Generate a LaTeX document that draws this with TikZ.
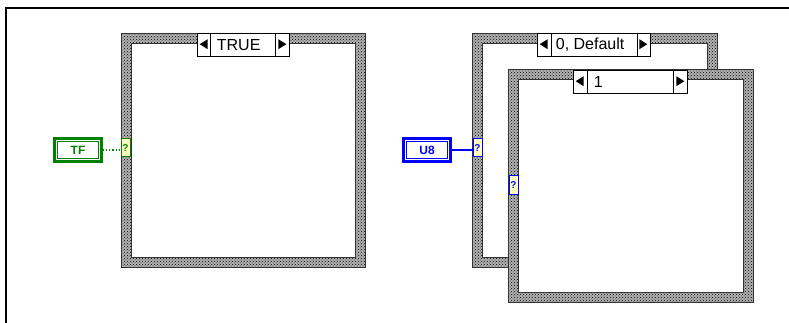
\documentclass[tikz,border=0pt]{standalone}
\usepackage{tikz}
\usepackage{fontspec}
\setmainfont{Liberation Sans}
\usetikzlibrary{patterns}

\begin{document}
\begin{tikzpicture}[x=1pt,y=-1pt,
    wall/.style={preaction={fill=gray!60}, pattern=crosshatch dots, pattern color=black,
                 draw=black!80, line width=0.5pt},
    hole/.style={fill=white, draw=black!80, line width=0.5pt},
    tabbox/.style={draw=black, line width=0.6pt, fill=white, inner sep=0pt},
    tabtext/.style={anchor=west, inner sep=0pt, font=\fontsize{16}{16}\selectfont},
    tunnel/.style={draw=#1, line width=1pt, fill=yellow!25, minimum width=9pt, minimum height=18pt,
                   inner sep=0pt, text=#1, font=\bfseries\fontsize{10}{10}\selectfont},
    constant/.style={draw=#1, line width=2.6pt, fill=white, minimum width=47pt, minimum height=23pt,
                     inner sep=0pt, text=#1, font=\bfseries\fontsize{12}{12}\selectfont}]
    % Page size and the frame line
    \useasboundingbox (0,0) rectangle (789,323);
    \coordinate (FL) at (6,323);
    \coordinate (FC) at (6,8);
    \coordinate (FR) at (789,8);
    \draw[line width=2.5pt] (FL) -- (FC) -- (FR);

    % Boolean case structure
    \path[wall] (121,33) rectangle (365,267);
    \path[hole] (131,43) rectangle (355,257);
    \node[tabbox, minimum width=92pt, minimum height=23pt] (tabT) at (243,44.5) {};
    \draw ([xshift=13pt]tabT.north west) -- ([xshift=13pt]tabT.south west);
    \draw ([xshift=-14pt]tabT.north east) -- ([xshift=-14pt]tabT.south east);
    \fill ([xshift=3pt,yshift=-11.5pt]tabT.north west) -- ++(8,-5) -- ++(0,10) -- cycle;
    \fill ([xshift=-3pt,yshift=-11.5pt]tabT.north east) -- ++(-8,-5) -- ++(0,10) -- cycle;
    \node[tabtext] (txtT) at ([xshift=20pt,yshift=-12pt]tabT.north west) {TRUE};

    % Boolean input and its selector tunnel
    \node[constant=green!50!black] (tf) at (78,150) {TF};
    \draw[green!50!black, line width=0.8pt] ([shift={(4.5,4.5)}]tf.north west) rectangle ([shift={(-4.5,-4.5)}]tf.south east);
    \node[tunnel=green!50!black] (selT) at (125.5,148) {?};
    \draw[green!50!black, line width=1.2pt, dotted] (tf.east) -- (selT.west |- tf.east);

    % Numeric case structure, back frame
    \path[wall] (472,33) rectangle (717,267);
    \path[hole] (482,43) rectangle (707,257);
    \node[tabbox, minimum width=113pt, minimum height=23pt] (tabD) at (593.5,44.5) {};
    \draw ([xshift=14pt]tabD.north west) -- ([xshift=14pt]tabD.south west);
    \draw ([xshift=-13pt]tabD.north east) -- ([xshift=-13pt]tabD.south east);
    \fill ([xshift=3pt,yshift=-11.5pt]tabD.north west) -- ++(8,-5) -- ++(0,10) -- cycle;
    \fill ([xshift=-3pt,yshift=-11.5pt]tabD.north east) -- ++(-8,-5) -- ++(0,10) -- cycle;
    \node[tabtext] (txtD) at ([xshift=19pt,yshift=-12pt]tabD.north west) {0, Default};

    % Numeric case structure, front frame
    \path[wall] (508,69) rectangle (753,302);
    \path[hole] (518,79) rectangle (743,292);
    \node[tabbox, minimum width=114pt, minimum height=23pt] (tabO) at (630,81.5) {};
    \draw ([xshift=14pt]tabO.north west) -- ([xshift=14pt]tabO.south west);
    \draw ([xshift=-14pt]tabO.north east) -- ([xshift=-14pt]tabO.south east);
    \fill ([xshift=3pt,yshift=-11.5pt]tabO.north west) -- ++(8,-5) -- ++(0,10) -- cycle;
    \fill ([xshift=-3pt,yshift=-11.5pt]tabO.north east) -- ++(-8,-5) -- ++(0,10) -- cycle;
    \node[tabtext] (txtO) at ([xshift=21pt,yshift=-12pt]tabO.north west) {1};

    % Numeric input and its selector tunnels
    \node[constant=blue] (u8) at (427,150) {U8};
    \draw[blue, line width=0.8pt] ([shift={(4.5,4.5)}]u8.north west) rectangle ([shift={(-4.5,-4.5)}]u8.south east);
    \node[tunnel=blue] (selD) at (477.5,148) {?};
    \node[tunnel=blue] (selO) at (513.5,185) {?};
    \draw[blue, line width=1.2pt] (u8.east) -- (selD.west |- u8.east);
\end{tikzpicture}
\end{document}
